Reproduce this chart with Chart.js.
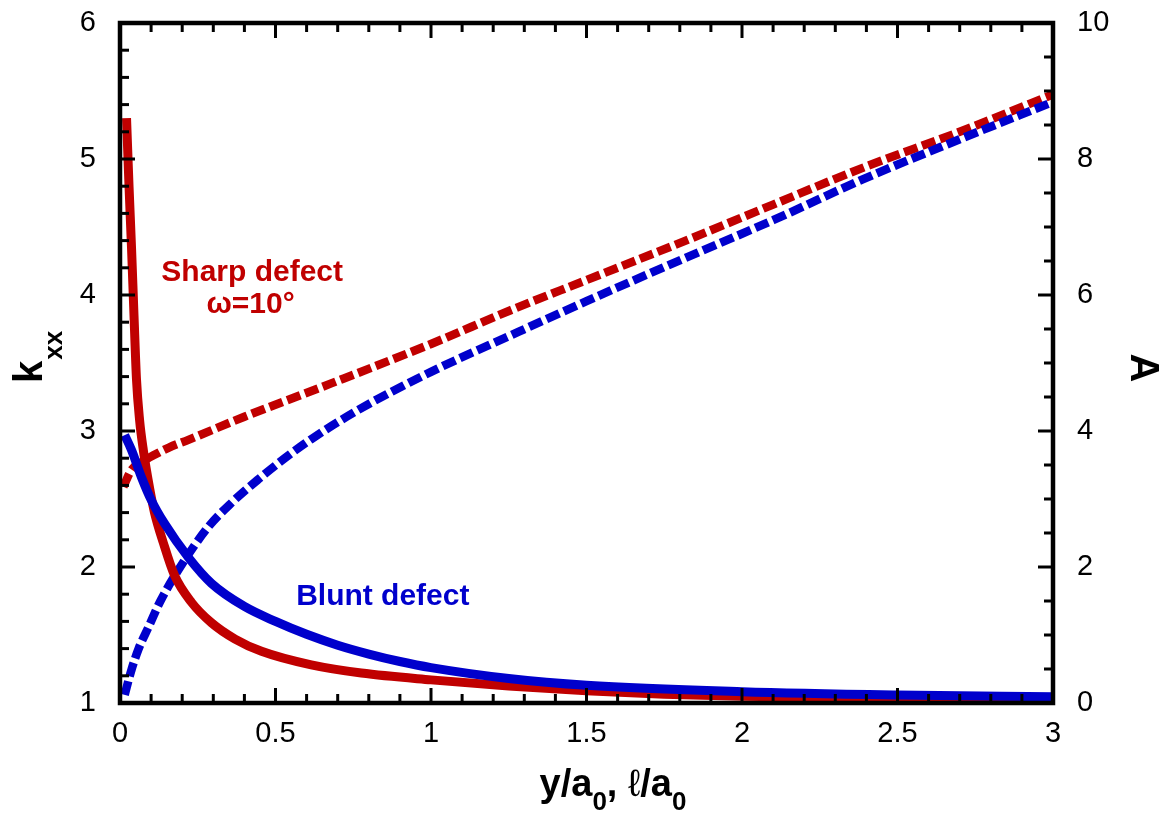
<!DOCTYPE html>
<html>
<head>
<meta charset="utf-8">
<script src="https://cdn.jsdelivr.net/npm/chart.js@4.4.1/dist/chart.umd.min.js"></script>
<style>
  html, body { margin: 0; padding: 0; background: #fff; }
  #wrap { width: 1168px; height: 818px; }
</style>
</head>
<body>
<div id="wrap"><canvas id="myChart" width="1168" height="818"></canvas></div>
<script>
// k_xx for the sharp defect (omega = 10 deg), left axis
const xSharpK = [0.021, 0.029, 0.037, 0.045, 0.053, 0.063, 0.075, 0.096, 0.111, 0.139, 0.175, 0.23, 0.294, 0.37, 0.455, 0.615, 0.776, 1.0, 1.25, 1.5, 1.75, 2.0, 2.5, 3.0];
const kSharp  = [5.30, 4.80, 4.35, 3.85, 3.38, 3.08, 2.86, 2.57, 2.40, 2.18, 1.94, 1.74, 1.59, 1.47, 1.38, 1.28, 1.22, 1.17, 1.125, 1.09, 1.065, 1.05, 1.035, 1.025];

// k_xx for the blunt defect, left axis
const xBluntK = [0.015, 0.037, 0.069, 0.101, 0.143, 0.22, 0.294, 0.4, 0.5, 0.6, 0.7, 0.8, 0.9, 1.0, 1.25, 1.5, 2.0, 2.5, 3.0];
const kBlunt  = [2.97, 2.86, 2.66, 2.49, 2.32, 2.07, 1.88, 1.71, 1.60, 1.505, 1.425, 1.36, 1.305, 1.26, 1.18, 1.13, 1.083, 1.059, 1.046];

// A for the sharp defect, right axis
const xSharpA = [0.011, 0.037, 0.069, 0.111, 0.159, 0.22, 0.4, 0.679, 1.0, 1.258, 1.5, 1.835, 2.1, 2.388, 2.7, 3.0];
const aSharp  = [3.18, 3.43, 3.54, 3.65, 3.76, 3.87, 4.21, 4.70, 5.28, 5.78, 6.22, 6.83, 7.33, 7.87, 8.40, 8.95];

// A for the blunt defect, right axis
const xBluntA = [0.015, 0.037, 0.06, 0.092, 0.13, 0.188, 0.284, 0.36, 0.445, 0.53, 0.615, 0.766, 1.0, 1.258, 1.5, 1.8, 2.1, 2.388, 2.7, 3.0];
const aBlunt  = [0.12, 0.49, 0.80, 1.12, 1.50, 1.96, 2.59, 2.95, 3.29, 3.60, 3.88, 4.31, 4.87, 5.41, 5.91, 6.51, 7.10, 7.70, 8.29, 8.84];

// tick labels
const xTicks = ['0', '0.5', '1', '1.5', '2', '2.5', '3'];
const kTicks = ['1', '2', '3', '4', '5', '6'];
const aTicks = ['0', '2', '4', '6', '8', '10'];

const RED = '#C00000';
const BLUE = '#0000CC';
const FONT = '"Liberation Sans", Arial, sans-serif';

const pts = (xs, ys) => xs.map((x, i) => ({ x: x, y: ys[i] }));

function line(data, color, axis, dashed, order) {
  return {
    data: data,
    yAxisID: axis,
    borderColor: color,
    borderWidth: dashed ? 8.5 : 9,
    borderDash: dashed ? [14, 5] : [],
    borderCapStyle: 'butt',
    pointRadius: 0,
    fill: false,
    cubicInterpolationMode: 'monotone',
    order: order,
  };
}

// frame, inward ticks, axis titles and curve labels
const decor = {
  id: 'decor',
  afterDraw(chart) {
    const { ctx, chartArea: a, scales } = chart;
    const sx = scales.x, sl = scales.yL, sr = scales.yR;
    ctx.save();
    ctx.strokeStyle = '#000';
    ctx.lineWidth = 3;
    const seg = (x1, y1, x2, y2) => { ctx.beginPath(); ctx.moveTo(x1, y1); ctx.lineTo(x2, y2); ctx.stroke(); };

    for (let i = 1; i < 30; i++) {
      const px = sx.getPixelForValue(i / 10);
      const len = i % 5 === 0 ? 15 : 9;
      seg(px, a.bottom, px, a.bottom - len);
      seg(px, a.top, px, a.top + len);
    }
    for (let i = 1; i < 25; i++) {
      const py = sl.getPixelForValue(1 + i * 0.2);
      const len = i % 5 === 0 ? 15 : 9;
      seg(a.left, py, a.left + len, py);
    }
    for (let i = 1; i < 20; i++) {
      const py = sr.getPixelForValue(i * 0.5);
      const len = i % 4 === 0 ? 15 : 9;
      seg(a.right, py, a.right - len, py);
    }
    ctx.lineWidth = 4.5;
    ctx.strokeRect(a.left, a.top, a.right - a.left, a.bottom - a.top);

    ctx.fillStyle = '#000';
    ctx.textBaseline = 'alphabetic';

    // left title k_xx
    ctx.save();
    ctx.translate(42, 383);
    ctx.rotate(-Math.PI / 2);
    ctx.textAlign = 'left';
    ctx.font = 'bold 40px ' + FONT;
    ctx.fillText('k', 0, 0);
    const kw = ctx.measureText('k').width;
    ctx.font = 'bold 26px ' + FONT;
    ctx.fillText('xx', kw + 1, 20);
    ctx.restore();

    // right title A
    ctx.save();
    ctx.translate(1142, 368);
    ctx.rotate(Math.PI / 2);
    ctx.textAlign = 'center';
    ctx.textBaseline = 'middle';
    ctx.font = 'bold 40px ' + FONT;
    ctx.fillText('A', 0, 0);
    ctx.restore();

    // bottom title y/a0, l/a0
    const parts = [
      ['y/a', 'bold 38px ' + FONT, 0],
      ['0', 'bold 26px ' + FONT, 14],
      [', ', 'bold 38px ' + FONT, 0],
      ['\u2113', '38px ' + FONT, 0],
      ['/a', 'bold 38px ' + FONT, 0],
      ['0', 'bold 26px ' + FONT, 14],
    ];
    ctx.textAlign = 'left';
    let total = 0;
    parts.forEach(p => { ctx.font = p[1]; total += ctx.measureText(p[0]).width; });
    let cx = 613 - total / 2;
    parts.forEach(p => {
      ctx.font = p[1];
      ctx.fillText(p[0], cx, 796 + p[2]);
      cx += ctx.measureText(p[0]).width;
    });

    // curve labels
    ctx.textAlign = 'center';
    ctx.font = 'bold 30px ' + FONT;
    ctx.fillStyle = RED;
    ctx.fillText('Sharp defect', sx.getPixelForValue(0.425), sl.getPixelForValue(4.1));
    ctx.fillText('\u03C9=10\u00B0', sx.getPixelForValue(0.42), sl.getPixelForValue(3.87));
    ctx.fillStyle = BLUE;
    ctx.fillText('Blunt defect', sx.getPixelForValue(0.845), sl.getPixelForValue(1.72));
    ctx.restore();
  }
};

const tickFont = { family: FONT, size: 29 };
const noPadY = (w) => (s) => { s.width = w; s.paddingTop = 0; s.paddingBottom = 0; };

new Chart(document.getElementById('myChart'), {
  type: 'line',
  data: {
    datasets: [
      line(pts(xBluntK, kBlunt), BLUE, 'yL', false, 0),
      line(pts(xSharpK, kSharp), RED, 'yL', false, 1),
      line(pts(xBluntA, aBlunt), BLUE, 'yR', true, 2),
      line(pts(xSharpA, aSharp), RED, 'yR', true, 3),
    ]
  },
  options: {
    responsive: false,
    animation: false,
    layout: { padding: { top: 23, left: 0, right: 0, bottom: 0 } },
    plugins: {
      legend: { display: false },
      tooltip: { enabled: false },
    },
    scales: {
      x: {
        type: 'linear',
        min: 0,
        max: 3,
        grid: { display: false, drawTicks: false },
        border: { display: false },
        ticks: {
          stepSize: 0.5, color: '#000', font: tickFont, padding: 14, maxRotation: 0,
          callback: (v, i) => xTicks[i],
        },
        afterFit: (s) => { s.height = 115; s.paddingLeft = 0; s.paddingRight = 0; },
      },
      yL: {
        position: 'left',
        min: 1,
        max: 6,
        grid: { display: false, drawTicks: false },
        border: { display: false },
        ticks: { stepSize: 1, color: '#000', font: tickFont, padding: 24, callback: (v, i) => kTicks[i] },
        afterFit: noPadY(120),
      },
      yR: {
        position: 'right',
        min: 0,
        max: 10,
        grid: { display: false, drawTicks: false },
        border: { display: false },
        ticks: { stepSize: 2, color: '#000', font: tickFont, padding: 24, callback: (v, i) => aTicks[i] },
        afterFit: noPadY(115),
      }
    }
  },
  plugins: [decor]
});
</script>
</body>
</html>
